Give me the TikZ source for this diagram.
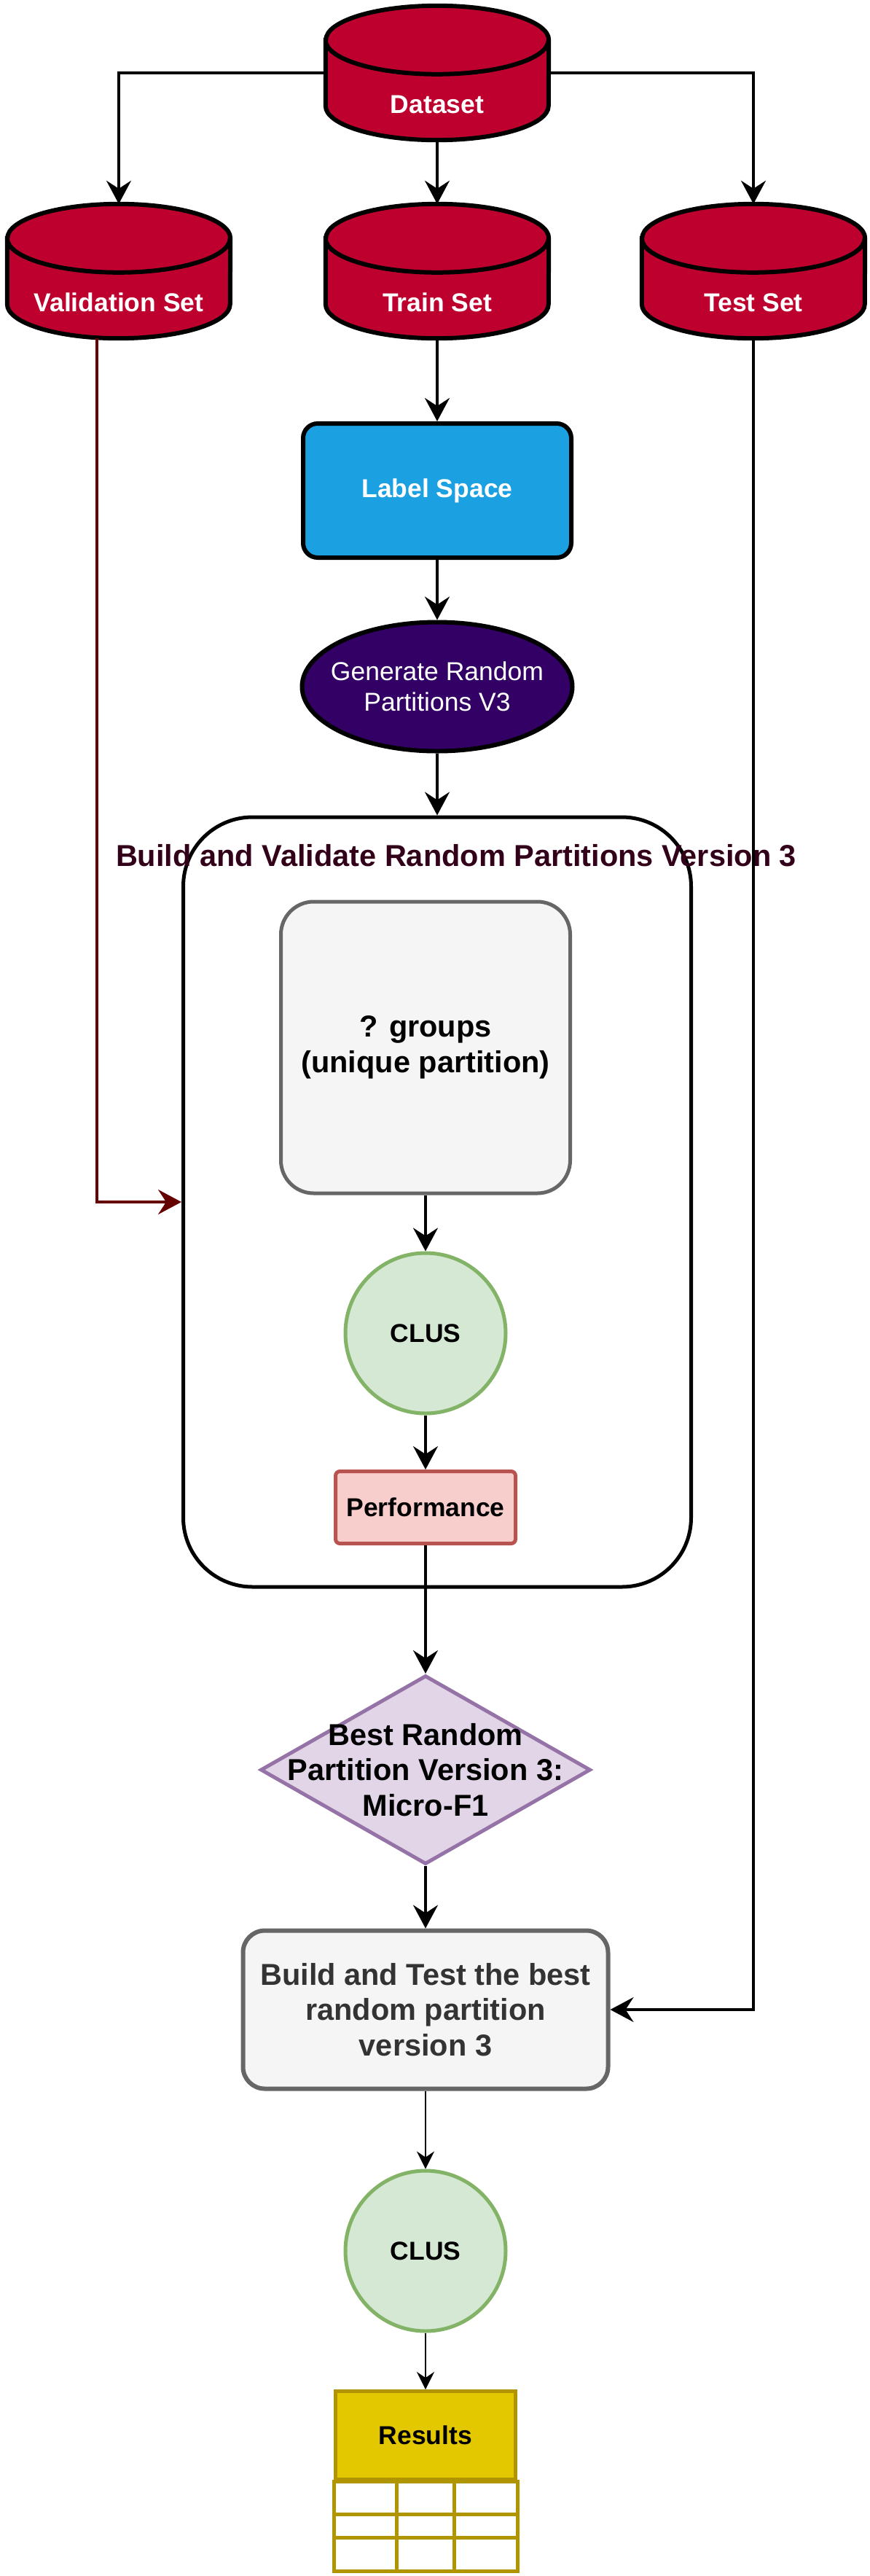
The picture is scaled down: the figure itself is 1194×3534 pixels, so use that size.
\documentclass[tikz,border=0pt]{standalone}
\usepackage{fontspec}
\setmainfont{Liberation Sans}
\usetikzlibrary{shapes.geometric,arrows.meta,backgrounds}
\definecolor{dbred}{HTML}{BD002E}
\definecolor{lblue}{HTML}{1BA1E2}
\definecolor{genpurple}{HTML}{330066}
\definecolor{titlec}{HTML}{33001A}
\definecolor{valred}{HTML}{660000}
\definecolor{grayfill}{HTML}{F5F5F5}
\definecolor{graydraw}{HTML}{666666}
\definecolor{txtgray}{HTML}{333333}
\definecolor{clusfill}{HTML}{D5E8D4}
\definecolor{clusdraw}{HTML}{82B366}
\definecolor{perffill}{HTML}{F8CECC}
\definecolor{perfdraw}{HTML}{B85450}
\definecolor{bestfill}{HTML}{E1D5E7}
\definecolor{bestdraw}{HTML}{9673A6}
\definecolor{resfill}{HTML}{E3C800}
\definecolor{resdraw}{HTML}{B09500}
\newcommand{\txtA}{\fontsize{35.5}{42}\selectfont}
\newcommand{\txtB}{\fontsize{41.5}{48.5}\selectfont\bfseries}

\begin{document}
\begin{tikzpicture}[x=1pt, y=-1pt, node distance=270pt,
    dbset/.style = {rectangle, inner sep=0pt, text height=147pt, text depth=37pt, minimum width=306pt, text=white, font=\txtA\bfseries},
    dbshape/.style = {draw, fill=dbred, line width=6pt},
    lblbox/.style = {draw, rectangle, rounded corners=20pt, line width=6pt, fill=lblue, text=white, font=\txtA\bfseries, minimum width=368pt, minimum height=184pt},
    genell/.style = {draw, ellipse, inner sep=0pt, line width=6pt, fill=genpurple, minimum width=371pt, minimum height=177pt},
    gentxt/.style = {text=white, font=\txtA, align=center},
    frame/.style = {draw, rectangle, rounded corners=95pt, line width=5pt, minimum width=697pt, minimum height=1056pt},
    grpbox/.style = {draw=graydraw, fill=grayfill, rectangle, rounded corners=45pt, line width=5pt, font=\txtB, align=center, minimum width=397pt, minimum height=400pt},
    clus/.style = {draw=clusdraw, fill=clusfill, circle, line width=5pt, font=\txtA\bfseries, minimum size=220pt},
    perf/.style = {draw=perfdraw, fill=perffill, rectangle, rounded corners=6pt, line width=5pt, font=\txtA\bfseries, minimum width=247pt, minimum height=99pt},
    best/.style = {draw=bestdraw, fill=bestfill, diamond, line width=5pt, minimum width=453pt, minimum height=259pt},
    bldbox/.style = {draw=graydraw, fill=grayfill, rectangle, rounded corners=30pt, line width=6pt, text=txtgray, font=\txtB, align=center, minimum width=501pt, minimum height=217pt},
    reshead/.style = {draw=resdraw, fill=resfill, rectangle, line width=5pt, font=\txtA\bfseries, minimum width=247pt, minimum height=121pt},
    arr/.style = {-{Stealth[length=32pt, width=34pt, inset=11pt]}, line width=3.5pt},
    arrthin/.style = {-{Stealth[length=24pt, width=24pt, inset=8pt]}, line width=2.5pt}]

    \useasboundingbox (0,0) rectangle (1194,3534);

    % data sets
    \node[dbset] (data) at (600,100) {Dataset};
    \node[dbset] (train) [below of=data, node distance=272pt] {Train Set};
    \node[dbset] (val) [left of=train, node distance=437pt] {Validation Set};
    \node[dbset] (test) [right of=train, node distance=434pt] {Test Set};
    \begin{scope}[on background layer]
        \foreach \n in {data,train,val,test} {
            \draw[dbshape] ([yshift=-47pt]\n.north west) -- ([yshift=47pt]\n.south west)
                arc[start angle=180, end angle=360, x radius=153pt, y radius=47pt]
                -- ([yshift=-47pt]\n.north east)
                arc[start angle=0, end angle=180, x radius=153pt, y radius=47pt] -- cycle;
            \draw[line width=6pt] ([yshift=-47pt]\n.north west)
                arc[start angle=180, end angle=360, x radius=153pt, y radius=47pt];
        }
    \end{scope}

    \node[lblbox] (lbl) [below of=train, node distance=301pt] {Label Space};
    \node[genell, label={[gentxt]center:Generate Random\\Partitions V3}] (gen) [below of=lbl, node distance=269pt] {};

    % build and validate block
    \node[frame] (cont) [below of=gen, node distance=707pt] {};
    \node[font=\txtB, text=titlec] (title) at (626,1174) {Build and Validate Random Partitions Version 3};
    \node[grpbox] (grp) at (584,1437) {? groups\\(unique partition)};
    \node[clus] (clus1) [below of=grp, node distance=392pt] {CLUS};
    \node[perf] (perf) [below of=clus1, node distance=239pt] {Performance};

    \node[best, label={[font=\txtB, align=center]center:Best Random\\Partition Version 3:\\Micro-F1}] (best) [below of=perf, node distance=360pt] {};
    \node[bldbox] (bld) [below of=best, node distance=329pt] {Build and Test the best\\random partition\\version 3};
    \node[clus] (clus2) [below of=bld, node distance=331pt] {CLUS};
    \node[reshead] (res) [below of=clus2, node distance=253pt] {Results};

    % results table
    \draw[draw=resdraw, line width=5pt] (res.south west) rectangle ([yshift=-123pt]res.south east);
    \foreach \r in {45,77}
        \draw[draw=resdraw, line width=5pt] ([yshift=-\r pt]res.south west) -- ([yshift=-\r pt]res.south east);
    \foreach \c in {86,165}
        \draw[draw=resdraw, line width=5pt] ([xshift=\c pt]res.south west) -- ([xshift=\c pt, yshift=-123pt]res.south west);

    % connectors
    \draw[arr] (data) -- (train);
    \draw[arr] (data) -| (val);
    \draw[arr] (data) -| (test);
    \draw[arr] (train) -- (lbl);
    \draw[arr] (lbl) -- (gen);
    \draw[arr] (gen) -- (cont);
    \draw[arr, valred] ([xshift=-30pt]val.south) |- (cont);
    \draw[arr] (grp) -- (clus1);
    \draw[arr] (clus1) -- (perf);
    \draw[arr] (perf) -- (best);
    \draw[arr] (best) -- (bld);
    \draw[arr] (test) |- (bld);
    \draw[arrthin] (bld) -- (clus2);
    \draw[arrthin] (clus2) -- (res);
\end{tikzpicture}
\end{document}
